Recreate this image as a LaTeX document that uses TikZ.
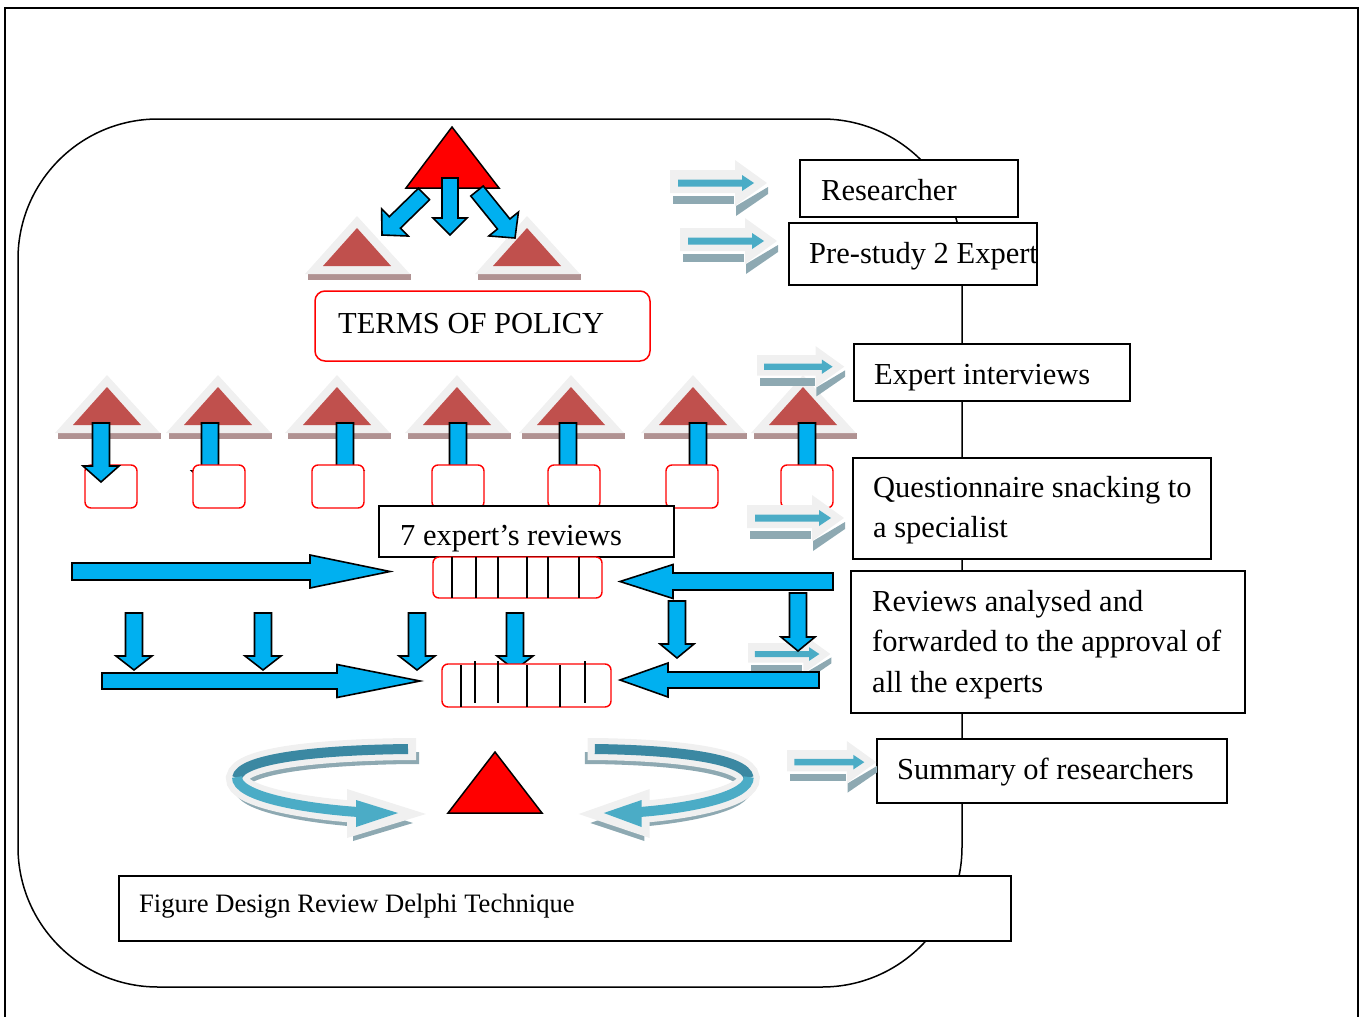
\documentclass[tikz,border=0pt]{standalone}
\usepackage{fontspec}
\setmainfont{Liberation Serif}
\usetikzlibrary{calc}
\definecolor{arrblue}{HTML}{00B0F0}
\definecolor{tribrown}{HTML}{C0504D}
\definecolor{glowgray}{HTML}{F0F0F0}
\definecolor{reflbrown}{HTML}{B09292}
\definecolor{tealA}{HTML}{4BACC6}
\definecolor{tealB}{HTML}{3B88A2}
\definecolor{reflteal}{HTML}{8EA9B2}
\tikzset{
  bluearrow/.style={fill=arrblue, draw=black, line width=1.6pt, line join=miter},
  boxst/.style={draw=black, line width=1.6pt, fill=white},
  redbox/.style={draw=red, line width=1.4pt, fill=white},
  txt/.style={anchor=base west, inner sep=0pt, font=\fontsize{30.5}{36}\selectfont},
  smalltxt/.style={anchor=base west, inner sep=0pt, font=\fontsize{26.6}{32}\selectfont},
}
% block arrow: x1 y1 x2 y2 shafthalf headhalf headlen
\newcommand\blkarrow[7]{%
  \pgfmathsetmacro\brot{-atan2((#4)-(#2),(#3)-(#1))}%
  \pgfmathsetmacro\blen{veclen((#3)-(#1),(#4)-(#2))}%
  \pgfmathsetmacro\bneck{\blen-(#7)}%
  \draw[bluearrow,shift={(#1,#2)},rotate=\brot] (0,-#5)--(\bneck,-#5)--(\bneck,-#6)--(\blen,0)--(\bneck,#6)--(\bneck,#5)--(0,#5)--cycle;}
% soft triangle with glow and reflection, apex at (#1,#2)
\newcommand\softtri[2]{%
  \begin{scope}[shift={(#1,#2)}]
    \fill[reflbrown] (-49,46) rectangle (54,52);
    \fill[glowgray] (0,-12) -- (53,46) -- (-52,46) -- cycle;
    \fill[tribrown] (0,0) -- (34,38) -- (-34,38) -- cycle;
  \end{scope}}
% small shadowed arrow, top-left at (#1,#2), scale #3
\newcommand\shadarrow[3]{%
  \begin{scope}[shift={(#1,#2)},scale=#3]
    \fill[reflteal] (3,36) rectangle (64,44);
    \fill[reflteal] (66,46)--(98,27)--(98,34)--(66,56)--cycle;
    \fill[glowgray] (0,10)--(65,10)--(65,0)--(97,23)--(65,46)--(65,33)--(0,33)--cycle;
    \fill[tealA] (8,19.5)--(72,19.5)--(72,15)--(84,23)--(72,31)--(72,26.5)--(8,26.5)--cycle;
  \end{scope}}
% ring arrow (left version)
\newcommand\ringarrow{%
  \begin{scope}[shift={(3,9)}]
    \draw[reflteal, line width=12pt] (416,749) -- (408,749) .. controls (320,750) and (240,758) .. (237,778) .. controls (236,796) and (300,808) .. (358,812);
    \fill[reflteal] (350,795)--(410,814)--(350,832)--cycle;
  \end{scope}
  \draw[glowgray, line width=22pt] (416,749) -- (408,749) .. controls (320,750) and (240,758) .. (237,778) .. controls (236,796) and (300,808) .. (358,812) -- (362,812);
  \fill[glowgray] (347,789)--(426,814)--(347,838)--cycle;
  \draw[tealB, line width=10pt] (408,749) .. controls (320,750) and (240,758) .. (237,778);
  \draw[tealA, line width=10pt] (237,777) .. controls (236,796) and (300,808) .. (358,812);
  \fill[tealA] (356,800)--(398,813)--(356,827)--cycle;}
\begin{document}
\begin{tikzpicture}[x=1pt,y=-1pt]
\useasboundingbox (0,0) rectangle (1360,1017);
% outer frame
\draw[line width=1.2pt] (5,1030) -- (5,8) -- (1358,8) -- (1358,1030);
\draw[line width=2.2pt] (5,8) -- (1358,8);
% big rounded region
\draw[line width=1.5pt, rounded corners=140pt] (18,119) rectangle (962,987);

% right-hand boxes
\draw[boxst] (800,160) rectangle (1018,217);
\node[txt] (res) at (821,200) {Researcher};
\draw[boxst] (789,223) rectangle (1037,285);
\node[txt] (pre) at (809,263) {Pre-study 2 Expert};
\draw[boxst] (854,344) rectangle (1130,401);
\node[txt] (int) at (874,384) {Expert interviews};
\draw[boxst] (853,458) rectangle (1211,559);
\node[txt] (q1) at (873,497) {Questionnaire snacking to};
\node[txt] (q2) at (873,537) {a specialist};
\draw[boxst] (851,571) rectangle (1245,713);
\node[txt] (r1) at (872,611) {Reviews analysed and};
\node[txt] (r2) at (872,651) {forwarded to the approval of};
\node[txt] (r3) at (872,692) {all the experts};
\draw[boxst] (877,739) rectangle (1227,803);
\node[txt] (sum) at (897,779) {Summary of researchers};
\draw[boxst] (119,876) rectangle (1011,941);
\node[smalltxt] (fig) at (139,912) {Figure Design Review Delphi Technique};

% small shadow arrows pointing to the boxes
\shadarrow{670}{160}{1}
\shadarrow{680}{218}{1}

% top triangles
\softtri{357}{228}
\softtri{527}{228}
\draw[fill=red, line width=1.5pt, line join=miter] (452,127) -- (499,188) -- (406,188) -- cycle;
\blkarrow{450}{178}{450}{235}{8}{17}{17}
\blkarrow{424}{194}{382}{235}{8}{19}{18}
\blkarrow{477}{191}{515}{238}{8}{19}{18}

% terms of policy
\draw[draw=red, line width=1.5pt, fill=white, rounded corners=10pt] (315,291) rectangle (650,361);
\node[txt] (terms) at (338,333) {TERMS OF POLICY};

% row of seven triangles
\foreach \cx in {107,218,337,457,571,693,803} {\softtri{\cx}{387}}
\draw[redbox, rounded corners=6pt] (85,465) rectangle (137,508);
\blkarrow{101}{423}{101}{482}{8.5}{18}{16}
\foreach \ax in {210,345,458,568,698,807} {\blkarrow{\ax}{423}{\ax}{487}{8.5}{18}{16}}
\foreach \bx in {193,312,432,548,666,781} {\draw[redbox, rounded corners=6pt] (\bx,465) rectangle ({\bx+52},508);}
\shadarrow{757}{346}{0.9}
\shadarrow{747}{495}{1}

% seven expert reviews
\draw[boxst] (379,506) rectangle (674,557);
\node[txt] (seven) at (400,545) {7 expert’s reviews};
\draw[draw=red, line width=1.4pt, fill=white, rounded corners=6pt] (433,557) rectangle (602,598);
\foreach \lx in {452,476,498,527,548,579} {\draw[line width=1.3pt] (\lx,557) -- (\lx,598);}

% horizontal & vertical blue arrows
\blkarrow{72}{571.5}{390}{571.5}{8.5}{16.5}{80}
\shadarrow{748}{634.5}{0.85}
\blkarrow{833}{581.5}{620}{581.5}{8.5}{17}{53}
\blkarrow{134}{613}{134}{670}{8.5}{18}{14}
\blkarrow{263}{613}{263}{670}{8.5}{18}{14}
\blkarrow{417}{613}{417}{670}{8.5}{18}{14}
\blkarrow{515}{613}{515}{670}{8.5}{18}{14}
\blkarrow{677}{601}{677}{658}{8.5}{17}{14}
\blkarrow{798}{593}{798}{651}{8.5}{17}{14}
\blkarrow{102}{681}{420}{681}{8}{16.5}{83}
\blkarrow{819}{680}{620}{680}{8}{17}{48}
\draw[draw=red, line width=1.4pt, fill=white, rounded corners=6pt] (442,664) rectangle (611,707);
\draw[line width=1.3pt] (461,665) -- (461,707);
\draw[line width=1.3pt] (475,661) -- (475,703);
\draw[line width=1.3pt] (498,661) -- (498,703);
\draw[line width=1.3pt] (527,665) -- (527,707);
\draw[line width=1.3pt] (560,665) -- (560,707);
\draw[line width=1.3pt] (585,661) -- (585,703);

% ring arrows and bottom triangle
\ringarrow
\begin{scope}[shift={(962,0)},xscale=-0.9]
\ringarrow
\end{scope}
\draw[fill=red, line width=1.5pt, line join=miter] (495,752) -- (542,813) -- (448,813) -- cycle;
\shadarrow{787}{741}{0.92}
\end{tikzpicture}
\end{document}
